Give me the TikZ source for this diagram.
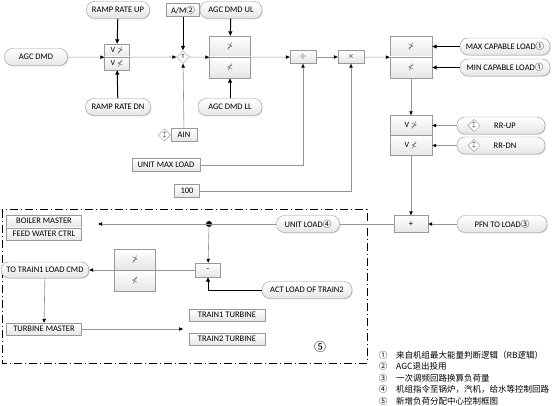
\documentclass[tikz,border=0pt]{standalone}
\usepackage{amssymb}
\usepackage{fontspec}
\setmainfont{Carlito}
\newfontfamily\cjk{Noto Sans CJK SC}
\usetikzlibrary{arrows.meta,shapes.geometric,shadows}
\newcommand{\nr}[1]{{\cjk #1}}
\tikzset{
	box/.style={draw=gray!80, top color=white, bottom color=gray!20, inner sep=1pt,
		minimum height=13pt, font=\fontsize{8.5}{9}\selectfont,
		drop shadow={opacity=0.3, shadow xshift=0.8pt, shadow yshift=-0.8pt}},
	pill/.style={box, rounded corners=8pt, minimum height=17pt},
	half/.style={box, font=\fontsize{8}{9}\selectfont},
	sign/.style={diamond, draw=gray!80, fill=white, inner sep=0.6pt,
		font=\fontsize{6}{6}\selectfont},
	line/.style={draw=gray!85, line width=0.6pt, -{Triangle[length=4pt,width=3.4pt,color=black]}},
	bline/.style={draw=black, line width=1pt, -{Triangle[length=4.5pt,width=4pt]}},
	legend/.style={font=\cjk\fontsize{8.5}{10}\selectfont, inner sep=0pt}
}
\begin{document}
\begin{tikzpicture}[x=1pt,y=-1pt]
	\useasboundingbox (0,0) rectangle (557,406);
	% Rahmen Lastverteilung
	\draw[line width=1pt, dash pattern=on 8pt off 3pt on 1pt off 3pt] (2,210) rectangle (367,363);
	% AGC Eingang
	\node[pill, minimum width=63pt] (agc) at (36,57) {AGC DMD};
	\node[pill, minimum width=63pt] (rup) at (118,10) {RAMP RATE UP};
	\node[pill, minimum width=65pt] (rdn) at (118,107) {RAMP RATE DN};
	\node[half, minimum width=25pt, minimum height=13pt] (rateu) at (117,50.5) {V $\ngtr$};
	\node[half, minimum width=25pt, minimum height=13pt] (rated) at (117,63.5) {V $\nless$};
	% Umschaltung
	\node[box, minimum width=33pt] (am) at (183,10) {A/M\nr{②}};
	\node[sign, fill=gray!5, minimum size=13pt] (sw) at (183,57) {T};
	\node[box, minimum width=26pt] (ain) at (184,135) {AIN};
	\node[sign, minimum size=12pt, anchor=east] (ainm) at (ain.west) {$\updownarrow$};
	% Begrenzung
	\node[pill, minimum width=62pt] (ul) at (231,10) {AGC DMD UL};
	\node[pill, minimum width=64pt] (ll) at (230,107) {AGC DMD LL};
	\node[half, minimum width=41pt, minimum height=21pt] (lima) at (230,46.5) {$\ngtr$};
	\node[half, minimum width=41pt, minimum height=21pt] (limb) at (230,67.5) {$\nless$};
	\node[box, minimum width=26pt] (div) at (303,57) {$\div$};
	\node[box, minimum width=26pt] (mul) at (351,57) {$\times$};
	\node[box, minimum width=68pt] (umax) at (166,165) {UNIT MAX LOAD};
	\node[box, minimum width=25pt] (hund) at (187,191) {100};
	% Kapazitaet
	\node[half, minimum width=42pt, minimum height=21pt] (capa) at (411,46.5) {$\ngtr$};
	\node[half, minimum width=42pt, minimum height=21pt] (capb) at (411,67.5) {$\nless$};
	\node[pill, minimum width=90pt] (max) at (505,46.5) {MAX CAPABLE LOAD\nr{①}};
	\node[pill, minimum width=90pt] (min) at (505,67.5) {MIN CAPABLE LOAD\nr{①}};
	\node[half, minimum width=42pt, minimum height=20pt] (rra) at (411,125.5) {V $\ngtr$};
	\node[half, minimum width=42pt, minimum height=20pt] (rrb) at (411,145.5) {V $\nless$};
	\node[pill, minimum width=88pt] (rrup) at (501,125.5) {\hspace*{8pt}RR-UP};
	\node[pill, minimum width=88pt] (rrdn) at (501,145.5) {\hspace*{8pt}RR-DN};
	\node[sign, minimum size=12pt] (rrupm) at (474,125.5) {$\updownarrow$};
	\node[sign, minimum size=12pt] (rrdnm) at (474,145.5) {$\updownarrow$};
	\node[box, minimum width=34pt, minimum height=17pt] (plus) at (411,224) {+};
	\node[pill, minimum width=90pt] (pfn) at (502,224) {PFN TO LOAD\nr{③}};
	% Lastverteilung
	\node[pill, minimum width=63pt] (uload) at (308,224) {UNIT LOAD\nr{④}};
	\coordinate (bm) at (98,224);
	\fill (209,224) circle (3pt) coordinate (dot);
	\node[box, minimum width=75pt, minimum height=12pt] (boiler) at (44,221) {BOILER MASTER};
	\node[box, minimum width=75pt, minimum height=12pt] (feed) at (44,234) {FEED WATER CTRL};
	\node[half, minimum width=41pt, minimum height=21pt] (splita) at (135,259.5) {$\ngtr$};
	\node[half, minimum width=41pt, minimum height=21pt] (splitb) at (135,280.5) {$\nless$};
	\node[pill, minimum width=88pt, minimum height=16pt] (train) at (45,270) {TO TRAIN1 LOAD CMD};
	\node[box, minimum width=25pt, minimum height=14pt] (sub) at (208,270) {-};
	\node[pill, minimum width=90pt] (act) at (307,290) {ACT LOAD OF TRAIN2};
	\node[box, minimum width=75pt, minimum height=12pt] (turb) at (44,329) {TURBINE MASTER};
	\coordinate (tm) at (183,329);
	\node[box, minimum width=76pt, minimum height=12pt] (tra) at (227,315) {TRAIN1 TURBINE};
	\node[box, minimum width=76pt, minimum height=12pt] (trb) at (227,339) {TRAIN2 TURBINE};
	\node[font=\cjk\fontsize{12}{12}\selectfont] (five) at (320,347) {⑤};
	% Verbindungen
	\draw[line] (agc) -- (rateu.south west);
	\draw[bline] (rup) -- (rateu);
	\draw[bline] (rdn) -- (rated);
	\draw[line] (rateu.south east) -- (sw);
	\draw[bline] (am) -- (sw);
	\draw[line] (ain) -- (sw);
	\draw[line] (sw) -- (lima.south west);
	\draw[bline] (ul) -- (lima);
	\draw[bline] (ll) -- (limb);
	\draw[line] (lima.south east) -- (div);
	\draw[line] (div) -- (mul);
	\draw[line] (mul) -- (capa.south west);
	\draw[line] (umax) -| (div);
	\draw[line] (hund) -| (mul);
	\draw[bline] (max) -- (capa);
	\draw[bline] (min) -- (capb);
	\draw[line] (capb) -- (rra);
	\draw[line] (rrup) -- (rra);
	\draw[line] (rrdn) -- (rrb);
	\draw[line] (rrb) -- (plus);
	\draw[line] (pfn) -- (plus);
	\draw[draw=gray!85, line width=0.6pt] (plus) -- (uload);
	\draw[line] (uload) -- (bm);
	\draw[line] (dot) -- (sub);
	\draw[bline] (act) -| (sub);
	\draw[line] (sub) -- (train);
	\draw[line] (train) -- (turb);
	\draw[line] (turb) -- (tm);
	% Legende
	\foreach \n/\t [count=\i] in {①/来自机组最大能量判断逻辑（RB逻辑）, ②/AGC退出投用,
		③/一次调频回路换算负荷量, ④/机组指令至锅炉，汽机，给水等控制回路, ⑤/新增负荷分配中心控制框图}
	{
		\node[legend] at (383,{355+11.5*(\i-1)}) {\n};
		\node[legend, anchor=west] at (396,{355+11.5*(\i-1)}) {\t};
	}
\end{tikzpicture}
\end{document}
